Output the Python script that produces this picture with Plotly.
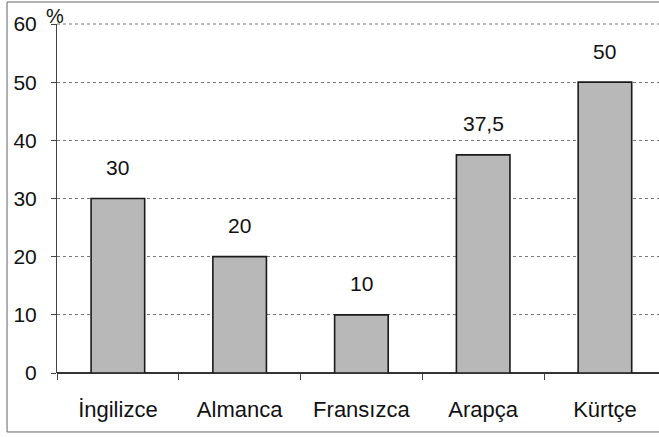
import plotly.graph_objects as go

categories = ["İngilizce", "Almanca", "Fransızca", "Arapça", "Kürtçe"]
values = [30, 20, 10, 37.5, 50]
value_labels = ["30", "20", "10", "37,5", "50"]
y_ticks = [0, 10, 20, 30, 40, 50, 60]

FONT = "Liberation Sans, Arial, sans-serif"

fig = go.Figure()
fig.add_trace(go.Bar(
    x=categories, y=values,
    width=0.44,
    marker=dict(color="#b8b8b8", line=dict(color="#1a1a1a", width=1.6)),
    hoverinfo="skip",
))

for c, v, t in zip(categories, values, value_labels):
    fig.add_annotation(x=c, y=v, text=t, showarrow=False, yshift=31,
                       yanchor="middle",
                       font=dict(family=FONT, size=21, color="#111"))

fig.add_annotation(xref="paper", yref="paper", x=-0.004, y=1.023, text="%",
                   showarrow=False, xanchor="center", yanchor="middle",
                   font=dict(family=FONT, size=20, color="#111"))

# outer chart border
fig.add_shape(type="rect", xref="paper", yref="paper",
              x0=-0.083, x1=1.02, y0=-0.169, y1=1.063,
              line=dict(color="#666", width=1), layer="below")
# dotted top edge of plot area
fig.add_shape(type="line", xref="paper", yref="paper",
              x0=0, x1=1, y0=1, y1=1,
              line=dict(color="#777", width=1, dash="dot"))

fig.update_layout(
    width=659, height=437,
    margin=dict(l=57, r=0, t=24, b=64),
    paper_bgcolor="white", plot_bgcolor="white",
    showlegend=False,
    font=dict(family=FONT, size=21, color="#111"),
    xaxis=dict(
        type="category", range=[-0.5, 4.444], tickson="boundaries",
        ticks="outside", ticklen=6, tickcolor="#444",
        showline=False, showgrid=False, ticklabelstandoff=21,
        tickfont=dict(size=22),
    ),
    yaxis=dict(
        range=[0, 60], tickvals=y_ticks, ticks="outside", ticklen=5,
        tickcolor="#444", showline=True, linecolor="#444", linewidth=1,
        showgrid=True, gridcolor="#777", griddash="dot", gridwidth=1,
        zeroline=True, zerolinecolor="#333", zerolinewidth=1.5,
        ticklabelstandoff=10, tickfont=dict(size=21),
    ),
)

fig.write_html("out.html", config={"displayModeBar": False},
               post_script="document.body.style.margin='0';")
